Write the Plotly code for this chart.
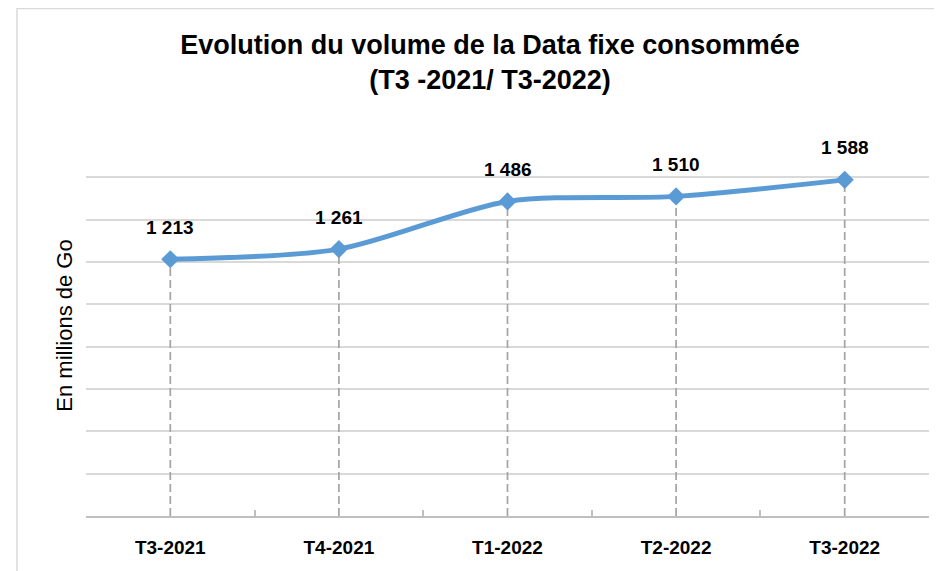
import plotly.graph_objects as go

categories = ["T3-2021", "T4-2021", "T1-2022", "T2-2022", "T3-2022"]
values = [1213, 1261, 1486, 1510, 1588]
labels = ["1 213", "1 261", "1 486", "1 510", "1 588"]

FONT = "Liberation Sans, Arial, sans-serif"
# the page body adds an 8px offset; figure is sized to fit the window
W, H = 934, 563
ML, MR, MT, MB = 78, 13, 127, 55
pw, ph = W - ML - MR, H - MT - MB

fig = go.Figure()

# drop lines
for c, v in zip(categories, values):
    fig.add_trace(go.Scatter(
        x=[c, c], y=[0, v], mode="lines",
        line=dict(color="#A6A6A6", width=1.75, dash="8px,4px"),
        hoverinfo="skip", showlegend=False))

fig.add_trace(go.Scatter(
    x=categories, y=values, mode="lines+markers",
    line=dict(color="#5B9BD5", width=5, shape="spline", smoothing=0.8),
    marker=dict(symbol="diamond", size=14, color="#5B9BD5"),
    showlegend=False))

for c, v, t in zip(categories, values, labels):
    fig.add_annotation(x=c, y=v, text=f"<b>{t}</b>", showarrow=False,
                       yshift=32, font=dict(family=FONT, size=19, color="#000000"))

fig.add_shape(type="rect", xref="paper", yref="paper",
              x0=(9 - ML) / pw, x1=(W + 20 - ML) / pw,
              y0=-(H + 20 - (H - MB)) / ph, y1=((H - MB) - 0.5) / ph,
              line=dict(color="#D9D9D9", width=1.5), layer="below")

fig.update_layout(
    width=W, height=H,
    margin=dict(l=ML, r=MR, t=MT, b=MB),
    paper_bgcolor="white", plot_bgcolor="white",
    title=dict(text="<b>Evolution du volume de la Data fixe consommée<br>(T3 -2021/ T3-2022)</b>",
               x=482 / W, xanchor="center", y=1 - 46 / H, yanchor="middle",
               font=dict(family=FONT, size=27, color="#000000")),
    xaxis=dict(type="category", tickson="boundaries", ticks="inside", ticklen=6,
               tickcolor="#BFBFBF", tickwidth=1.5, showline=True, linecolor="#BFBFBF", linewidth=1.5,
               showgrid=False, tickfont=dict(family=FONT, size=19, color="#000000"),
               ticklabelstandoff=13,
               tickprefix="<b>", ticksuffix="</b>", range=[-0.5, 4.5]),
    yaxis=dict(range=[0, 1800], dtick=200, showgrid=True, gridcolor="#D9D9D9", gridwidth=1.5,
               showticklabels=False, zeroline=False,
               title=dict(text="En millions de Go", standoff=6,
                          font=dict(family=FONT, size=22, color="#000000"))),
)

fig.write_html("out.html")
